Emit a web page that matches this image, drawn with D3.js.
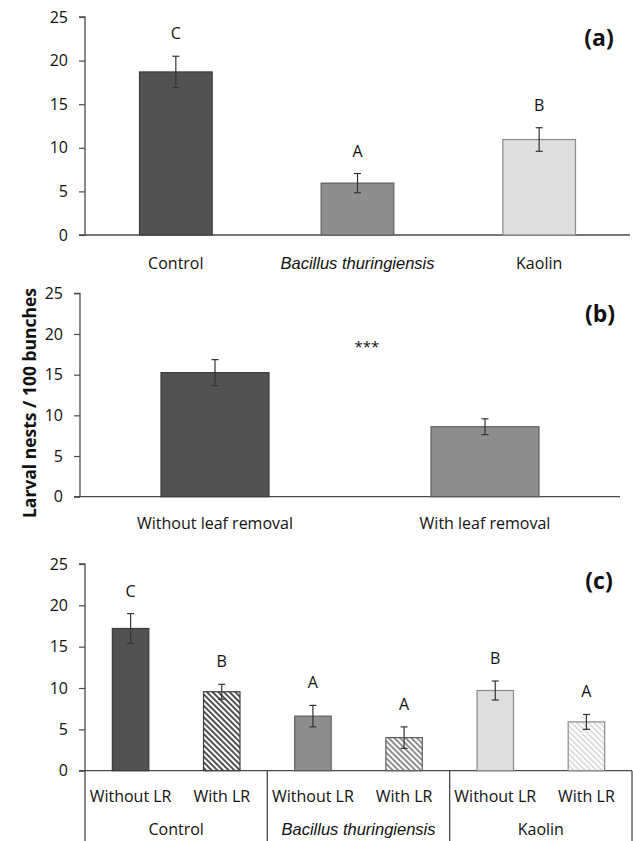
<!DOCTYPE html>
<html>
<head>
<meta charset="utf-8">
<script src="https://cdn.jsdelivr.net/npm/d3@7"></script>
<style>
  body { margin: 0; background: #fff; }
  text { font-family: "Open Sans", "Noto Sans", sans-serif; fill: #111; }
</style>
</head>
<body>
<svg id="chart" width="633" height="841"></svg>
<script>
// values
const yTicks = [0, 5, 10, 15, 20, 25];

const treatments = ['Control', 'Bacillus thuringiensis', 'Kaolin'];
const treatmentMeans = [18.7, 5.95, 10.95];
const treatmentErrors = [1.8, 1.1, 1.35];
const treatmentLetters = ['C', 'A', 'B'];

const leafRemoval = ['Without leaf removal', 'With leaf removal'];
const leafMeans = [15.25, 8.6];
const leafErrors = [1.6, 0.97];
const leafSignif = '***';

const combos = ['Without LR', 'With LR', 'Without LR', 'With LR', 'Without LR', 'With LR'];
const comboGroups = ['Control', 'Control', 'Bacillus thuringiensis', 'Bacillus thuringiensis', 'Kaolin', 'Kaolin'];
const comboHatched = [false, true, false, true, false, true];
const comboMeans = [17.2, 9.55, 6.6, 4.0, 9.7, 5.9];
const comboErrors = [1.8, 0.9, 1.3, 1.3, 1.15, 0.9];
const comboLetters = ['C', 'B', 'A', 'A', 'B', 'A'];

const fillOf = { 'Control': '#525252', 'Bacillus thuringiensis': '#8e8e8e', 'Kaolin': '#dedede' };
const strokeOf = { 'Control': '#3c3c3c', 'Bacillus thuringiensis': '#5e5e5e', 'Kaolin': '#8a8a8a' };
const hatchId = { 'Control': 'hatch-ctrl', 'Bacillus thuringiensis': 'hatch-bt', 'Kaolin': 'hatch-kao' };
const axisColor = '#4a4a4a';

const svg = d3.select('#chart');

// diagonal stripe patterns for the "with LR" bars
const defs = svg.append('defs');
Object.keys(hatchId).forEach(k => {
  const p = defs.append('pattern')
    .attr('id', hatchId[k])
    .attr('patternUnits', 'userSpaceOnUse')
    .attr('width', 4).attr('height', 4)
    .attr('patternTransform', 'rotate(-45)');
  p.append('rect').attr('width', 4).attr('height', 4).attr('fill', '#fff');
  p.append('rect').attr('width', 2).attr('height', 4).attr('fill', fillOf[k]);
});

// draw y axis + baseline, return y scale
function drawAxes(g, x0, x1, yBottom, yTop) {
  const y = d3.scaleLinear().domain([0, 25]).range([yBottom, yTop]);
  const ax = g.append('g')
    .attr('transform', `translate(${x0},0)`)
    .call(d3.axisLeft(y).tickValues(yTicks).tickSize(6).tickPadding(11));
  ax.select('.domain').attr('stroke', axisColor).attr('stroke-width', 1.3).attr('d', `M-6,${yTop}H0V${yBottom}`);
  ax.selectAll('.tick line').attr('stroke', axisColor).attr('stroke-width', 1.2);
  ax.selectAll('.tick text')
    .style('font-family', '"Open Sans", sans-serif')
    .style('font-size', '16px').attr('fill', '#111');
  g.append('line')
    .attr('x1', x0 - 6).attr('x2', x1)
    .attr('y1', yBottom).attr('y2', yBottom)
    .attr('stroke', axisColor).attr('stroke-width', 1.3);
  return y;
}

function drawBars(g, x, y, data, fillFn, strokeFn) {
  const bw = x.bandwidth() * 0.4;
  const cx = d => x(d.key) + x.bandwidth() / 2;
  g.selectAll('rect.bar').data(data).join('rect')
    .attr('class', 'bar')
    .attr('x', d => cx(d) - bw / 2)
    .attr('width', bw)
    .attr('y', d => y(d.mean))
    .attr('height', d => y(0) - y(d.mean))
    .attr('fill', fillFn)
    .attr('stroke', strokeFn)
    .attr('stroke-width', 1.2);
  const eb = g.selectAll('g.err').data(data).join('g').attr('class', 'err')
    .attr('stroke', '#333').attr('stroke-width', 1.2);
  eb.append('line').attr('x1', cx).attr('x2', cx)
    .attr('y1', d => y(d.mean + d.err)).attr('y2', d => y(d.mean - d.err));
  eb.append('line').attr('x1', d => cx(d) - 3.5).attr('x2', d => cx(d) + 3.5)
    .attr('y1', d => y(d.mean + d.err)).attr('y2', d => y(d.mean + d.err));
  eb.append('line').attr('x1', d => cx(d) - 3.5).attr('x2', d => cx(d) + 3.5)
    .attr('y1', d => y(d.mean - d.err)).attr('y2', d => y(d.mean - d.err));
  g.selectAll('text.letter').data(data.filter(d => d.letter)).join('text')
    .attr('class', 'letter')
    .attr('x', cx)
    .attr('y', d => y(d.mean + d.err) - 17)
    .attr('text-anchor', 'middle')
    .style('font-size', '16px')
    .text(d => d.letter);
}

function panelLabel(g, text, x, y) {
  g.append('text').attr('x', x).attr('y', y)
    .attr('text-anchor', 'middle').attr('dominant-baseline', 'central')
    .style('font-size', '23px').style('font-weight', 'bold')
    .text(text);
}

function catLabel(sel, t) {
  if (t === 'Bacillus thuringiensis') {
    sel.style('font-family', '"Liberation Sans", Arial, sans-serif').style('font-style', 'italic').style('font-size', '16.5px');
  } else {
    sel.style('font-size', '16px');
  }
  sel.text(t);
}

// ---------- panel (a) ----------
{
  const g = svg.append('g');
  const y = drawAxes(g, 85, 630, 235, 17);
  const x = d3.scaleBand().domain(treatments).range([85, 630]);
  const data = treatments.map((k, i) => ({ key: k, mean: treatmentMeans[i], err: treatmentErrors[i], letter: treatmentLetters[i] }));
  drawBars(g, x, y, data, d => fillOf[d.key], d => strokeOf[d.key]);
  treatments.forEach(t => {
    g.append('text').attr('x', x(t) + x.bandwidth() / 2).attr('y', 263)
      .attr('text-anchor', 'middle').attr('dominant-baseline', 'central')
      .call(catLabel, t);
  });
  panelLabel(g, '(a)', 599, 37);
}

// ---------- panel (b) ----------
{
  const g = svg.append('g');
  const y = drawAxes(g, 80, 620, 496.7, 293.3);
  const x = d3.scaleBand().domain(leafRemoval).range([80, 620]);
  const data = leafRemoval.map((k, i) => ({ key: k, mean: leafMeans[i], err: leafErrors[i] }));
  const fills = ['#525252', '#8e8e8e'], strokes = ['#3c3c3c', '#5e5e5e'];
  drawBars(g, x, y, data, (d, i) => fills[i], (d, i) => strokes[i]);
  leafRemoval.forEach(t => {
    g.append('text').attr('x', x(t) + x.bandwidth() / 2).attr('y', 523)
      .attr('text-anchor', 'middle').attr('dominant-baseline', 'central')
      .style('font-size', '16px').text(t);
  });
  g.append('text').attr('x', (x(leafRemoval[0]) + x(leafRemoval[1]) + x.bandwidth()) / 2 + 17).attr('y', 352)
    .attr('text-anchor', 'middle').style('font-size', '15px').attr('fill', '#333').text(leafSignif);
  panelLabel(g, '(b)', 600, 313);
  g.append('text')
    .attr('transform', 'translate(29,403) rotate(-90)')
    .attr('text-anchor', 'middle').attr('dominant-baseline', 'central')
    .style('font-size', '17.5px').style('font-weight', 'bold')
    .text('Larval nests / 100 bunches');
}

// ---------- panel (c) ----------
{
  const g = svg.append('g');
  const y = drawAxes(g, 85, 632, 770.7, 564);
  const keys = combos.map((c, i) => i);
  const x = d3.scaleBand().domain(keys).range([85, 632]);
  const data = keys.map(i => ({ key: i, group: comboGroups[i], hatched: comboHatched[i], mean: comboMeans[i], err: comboErrors[i], letter: comboLetters[i] }));
  drawBars(g, x, y, data,
    d => d.hatched ? `url(#${hatchId[d.group]})` : fillOf[d.group],
    d => strokeOf[d.group]);
  keys.forEach(i => {
    g.append('text').attr('x', x(i) + x.bandwidth() / 2).attr('y', 796)
      .attr('text-anchor', 'middle').attr('dominant-baseline', 'central')
      .style('font-size', '16px').text(combos[i]);
  });
  // group labels below the axis
  treatments.forEach(gr => {
    const idx = keys.filter(i => comboGroups[i] === gr);
    const left = x(idx[0]);
    const right = x(idx[idx.length - 1]) + x.bandwidth();
    g.append('text').attr('x', (left + right) / 2).attr('y', 829)
      .attr('text-anchor', 'middle').attr('dominant-baseline', 'central')
      .call(catLabel, gr);
  });
  const bounds = [0, 2, 4].map(i => x(i)).concat([x(5) + x.bandwidth()]);
  g.selectAll('line.sep').data(bounds).join('line')
    .attr('class', 'sep')
    .attr('x1', d => d).attr('x2', d => d)
    .attr('y1', 770.7).attr('y2', 841)
    .attr('stroke', axisColor).attr('stroke-width', 1.3);
  panelLabel(g, '(c)', 599, 580);
}
</script>
</body>
</html>
